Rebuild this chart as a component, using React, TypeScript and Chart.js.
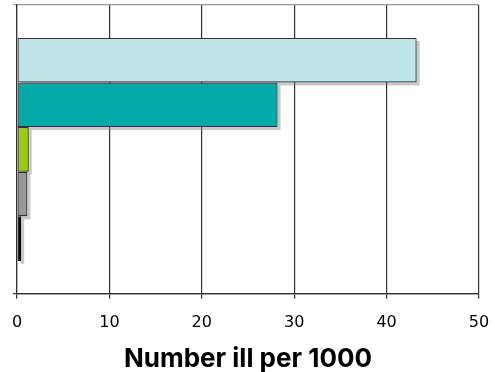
import React, { useEffect, useRef } from "react";
import { Chart, registerables } from "chart.js";

Chart.register(...registerables);

const categories = [""];
const seriesNames = ["Series 1", "Series 2", "Series 3", "Series 4", "Series 5"];
const seriesValues = [43.25, 28.2, 1.27, 1.12, 0.45];
const seriesColors = ["#BEE6E8", "#00AAA6", "#99CC11", "#999999", "#000000"];
const xTicks = [0, 10, 20, 30, 40, 50];
const xTitle = "Number ill per 1000";

const shadowPlugin = {
  id: "barShadow",
  beforeDatasetsDraw(chart: any) {
    const ctx = chart.ctx;
    ctx.save();
    chart.data.datasets.forEach((_d: any, i: number) => {
      const meta = chart.getDatasetMeta(i);
      meta.data.forEach((el: any) => {
        const { x, y, base, height } = el.getProps(["x", "y", "base", "height"], true);
        const left = Math.min(x, base);
        const w = Math.abs(x - base);
        ctx.fillStyle = "rgba(120,120,120,0.4)";
        ctx.fillRect(left + 3, y - height / 2 + 3, w, height);
      });
    });
    ctx.restore();
  },
};

export default function App() {
  const ref = useRef<HTMLCanvasElement>(null);
  useEffect(() => {
    if (!ref.current) return;
    const chart = new Chart(ref.current, {
      type: "bar",
      data: {
        labels: categories,
        datasets: seriesNames.map((name, i) => ({
          label: name,
          data: [seriesValues[i]],
          backgroundColor: seriesColors[i],
          borderColor: i === 4 ? "#000" : "#333",
          borderWidth: 1.2,
          borderSkipped: false,
          categoryPercentage: 0.772,
          barPercentage: 1,
        })),
      },
      options: {
        indexAxis: "y",
        animation: false,
        responsive: false,
        maintainAspectRatio: false,
        layout: { padding: { top: 5, left: 13, right: 16, bottom: 0 } },
        plugins: { legend: { display: false }, tooltip: { enabled: false } },
        scales: {
          x: {
            min: 0,
            max: 50,
            afterBuildTicks: (s: any) => {
              s.ticks = xTicks.map((v) => ({ value: v }));
            },
            afterFit: (s: any) => {
              s.paddingRight = 0;
              s.paddingLeft = 0;
            },
            grid: { color: "#333", lineWidth: 1.2, tickLength: 5, drawOnChartArea: true },
            border: { color: "#333", width: 1.2 },
            ticks: {
              color: "#000",
              padding: 14,
              font: { family: "DejaVu Sans", size: 16 },
            },
            title: {
              display: true,
              text: xTitle,
              color: "#000",
              font: { family: "Inter", size: 26, weight: "bold", lineHeight: 1.0 },
              padding: { top: 0, bottom: 0 },
            },
          },
          y: {
            type: "category",
            offset: true,
            grid: {
              offset: true,
              tickLength: 4,
              color: (c: any) => (c.index === 0 ? "#999" : "#333"),
              lineWidth: 1.2,
            },
            border: { color: "#333", width: 1.2 },
            ticks: { display: false },
          },
        },
      },
      plugins: [shadowPlugin],
    } as any);
    return () => chart.destroy();
  }, []);
  return (
    <div style={{ position: "fixed", left: 0, top: 0, width: 495, height: 372, background: "#fff" }}>
      <canvas ref={ref} width={495} height={372} style={{ width: 495, height: 372 }} />
    </div>
  );
}
